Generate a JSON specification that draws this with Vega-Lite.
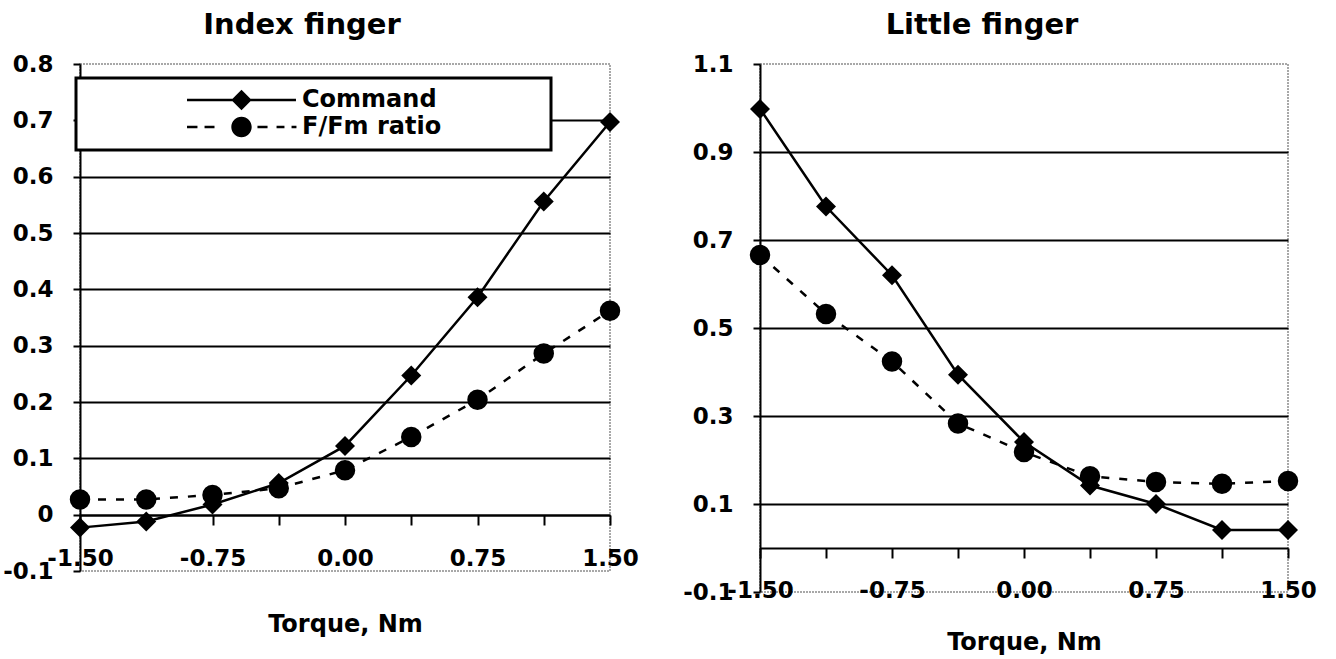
{
  "$schema": "https://vega.github.io/schema/vega-lite/v6.json",
  "autosize": "none",
  "padding": {"left": 80, "top": 64, "right": 48, "bottom": 67},
  "params": [
    {"name": "width", "value": 1208},
    {"name": "height", "value": 528}
  ],
  "background": "white",
  "bounds": "flush",
  "spacing": 150,
  "resolve": {"scale": {"shape": "independent"}, "legend": {"shape": "independent"}},
  "data": {
    "values": [
      {"panel": "Index finger", "series": "Command", "torque": -1.5, "value": -0.023},
      {"panel": "Index finger", "series": "Command", "torque": -1.125, "value": -0.012},
      {"panel": "Index finger", "series": "Command", "torque": -0.75, "value": 0.018},
      {"panel": "Index finger", "series": "Command", "torque": -0.375, "value": 0.056},
      {"panel": "Index finger", "series": "Command", "torque": 0, "value": 0.122},
      {"panel": "Index finger", "series": "Command", "torque": 0.375, "value": 0.247},
      {"panel": "Index finger", "series": "Command", "torque": 0.75, "value": 0.386},
      {"panel": "Index finger", "series": "Command", "torque": 1.125, "value": 0.556},
      {"panel": "Index finger", "series": "Command", "torque": 1.5, "value": 0.697},
      {"panel": "Index finger", "series": "F/Fm ratio", "torque": -1.5, "value": 0.027},
      {"panel": "Index finger", "series": "F/Fm ratio", "torque": -1.125, "value": 0.027},
      {"panel": "Index finger", "series": "F/Fm ratio", "torque": -0.75, "value": 0.035},
      {"panel": "Index finger", "series": "F/Fm ratio", "torque": -0.375, "value": 0.047},
      {"panel": "Index finger", "series": "F/Fm ratio", "torque": 0, "value": 0.079},
      {"panel": "Index finger", "series": "F/Fm ratio", "torque": 0.375, "value": 0.138},
      {"panel": "Index finger", "series": "F/Fm ratio", "torque": 0.75, "value": 0.204},
      {"panel": "Index finger", "series": "F/Fm ratio", "torque": 1.125, "value": 0.286},
      {"panel": "Index finger", "series": "F/Fm ratio", "torque": 1.5, "value": 0.362},
      {"panel": "Little finger", "series": "Command", "torque": -1.5, "value": 0.998},
      {"panel": "Little finger", "series": "Command", "torque": -1.125, "value": 0.776},
      {"panel": "Little finger", "series": "Command", "torque": -0.75, "value": 0.62},
      {"panel": "Little finger", "series": "Command", "torque": -0.375, "value": 0.394},
      {"panel": "Little finger", "series": "Command", "torque": 0, "value": 0.241},
      {"panel": "Little finger", "series": "Command", "torque": 0.375, "value": 0.142},
      {"panel": "Little finger", "series": "Command", "torque": 0.75, "value": 0.1},
      {"panel": "Little finger", "series": "Command", "torque": 1.125, "value": 0.041},
      {"panel": "Little finger", "series": "Command", "torque": 1.5, "value": 0.041},
      {"panel": "Little finger", "series": "F/Fm ratio", "torque": -1.5, "value": 0.666},
      {"panel": "Little finger", "series": "F/Fm ratio", "torque": -1.125, "value": 0.532},
      {"panel": "Little finger", "series": "F/Fm ratio", "torque": -0.75, "value": 0.424},
      {"panel": "Little finger", "series": "F/Fm ratio", "torque": -0.375, "value": 0.283},
      {"panel": "Little finger", "series": "F/Fm ratio", "torque": 0, "value": 0.218},
      {"panel": "Little finger", "series": "F/Fm ratio", "torque": 0.375, "value": 0.163},
      {"panel": "Little finger", "series": "F/Fm ratio", "torque": 0.75, "value": 0.15},
      {"panel": "Little finger", "series": "F/Fm ratio", "torque": 1.125, "value": 0.146},
      {"panel": "Little finger", "series": "F/Fm ratio", "torque": 1.5, "value": 0.152}
    ]
  },
  "hconcat": [
    {
      "width": 530,
      "height": 507,
      "title": {"text": "Index finger", "dx": -43},
      "transform": [{"filter": "datum.panel === 'Index finger'"}],
      "encoding": {
        "x": {
          "field": "torque",
          "type": "quantitative",
          "scale": {"domain": [-1.5, 1.5], "nice": false, "zero": false},
          "axis": {
            "values": [-1.5, -1.125, -0.75, -0.375, 0, 0.375, 0.75, 1.125, 1.5],
            "offset": -56,
            "tickSize": 10,
            "grid": false,
            "labelBaseline": "middle",
            "labelPadding": 33,
            "labelExpr": "abs(datum.value / 0.75 - round(datum.value / 0.75)) < 0.01 ? replace(format(datum.value, '.2f'), '\u2212', '-') : ''",
            "title": "Torque, Nm",
            "titleY": 116,
            "titleBaseline": "alphabetic"
          }
        },
        "y": {
          "field": "value",
          "type": "quantitative",
          "scale": {"domain": [-0.1, 0.8], "nice": false, "zero": false},
          "axis": {
            "values": [-0.1, 0, 0.1, 0.2, 0.3, 0.4, 0.5, 0.6, 0.7, 0.8],
            "title": null,
            "grid": true,
            "gridOpacity": {"condition": {"test": "datum.value > 0.75 || datum.value < -0.05", "value": 0}, "value": 1},
            "tickSize": 7,
            "labelPadding": 20,
            "labelExpr": "replace(format(datum.value, '.1~f'), '\u2212', '-')"
          }
        }
      },
      "layer": [
        {
          "transform": [{"filter": "datum.series === 'Command'"}],
          "mark": {"type": "line", "color": "black", "strokeWidth": 2.5},
          "encoding": {}
        },
        {
          "transform": [{"filter": "datum.series === 'F/Fm ratio'"}],
          "mark": {"type": "line", "color": "black", "strokeWidth": 2.5, "strokeDash": [8, 10]},
          "encoding": {}
        },
        {
          "transform": [{"filter": "datum.series === 'Command'"}],
          "mark": {"type": "point", "shape": "diamond", "filled": true, "color": "black", "opacity": 1, "size": 400}
        },
        {
          "transform": [{"filter": "datum.series === 'F/Fm ratio'"}],
          "mark": {"type": "point", "shape": "circle", "filled": true, "color": "black", "opacity": 1, "size": 420}
        },
        {
          "transform": [{"filter": "datum.torque > 99"}],
          "mark": {"type": "point", "filled": true, "color": "black", "opacity": 1},
          "encoding": {
            "shape": {
              "field": "series",
              "type": "nominal",
              "scale": {
                "domain": ["Command", "F/Fm ratio"],
                "range": [
                  "M-4.54,-0.11H4.54V0.11H-4.54ZM0,-0.85L0.85,0L0,0.85L-0.85,0ZM24.7,0L24.75,0",
                  "M-4.54,-0.11H-3.67V0.11H-4.54ZM-3.08,-0.11H-2.25V0.11H-3.08ZM1.33,-0.11H2.17V0.11H1.33ZM2.92,-0.11H3.58V0.11H2.92ZM4.17,-0.11H4.58V0.11H4.17ZM0.85,0A0.85,0.85,0,1,1,-0.85,0A0.85,0.85,0,1,1,0.85,0ZM24.7,0L24.75,0"
                ]
              },
              "legend": {
                "title": null,
                "orient": "none",
                "legendX": -4,
                "legendY": 14,
                "direction": "vertical",
                "fillColor": "white",
                "strokeColor": "black",
                "padding": 9,
                "symbolSize": 576,
                "symbolOpacity": 1,
                "symbolFillColor": "black",
                "symbolOffset": 143.5,
                "labelOffset": 47.5,
                "rowPadding": -7,
                "labelFont": "DejaVu Sans",
                "labelFontSize": 24,
                "labelFontWeight": "bold",
                "labelColor": "black",
                "labelBaseline": "middle"
              }
            }
          }
        }
      ]
    },
    {
      "width": 528,
      "height": 528,
      "title": {"text": "Little finger", "dx": -42},
      "transform": [{"filter": "datum.panel === 'Little finger'"}],
      "encoding": {
        "x": {
          "field": "torque",
          "type": "quantitative",
          "scale": {"domain": [-1.5, 1.5], "nice": false, "zero": false},
          "axis": {
            "values": [-1.5, -1.125, -0.75, -0.375, 0, 0.375, 0.75, 1.125, 1.5],
            "offset": -44,
            "tickSize": 10,
            "grid": false,
            "labelBaseline": "middle",
            "labelPadding": 32,
            "labelExpr": "abs(datum.value / 0.75 - round(datum.value / 0.75)) < 0.01 ? replace(format(datum.value, '.2f'), '\u2212', '-') : ''",
            "title": "Torque, Nm",
            "titleY": 101,
            "titleBaseline": "alphabetic"
          }
        },
        "y": {
          "field": "value",
          "type": "quantitative",
          "scale": {"domain": [-0.1, 1.1], "nice": false, "zero": false},
          "axis": {
            "values": [-0.1, 0.1, 0.3, 0.5, 0.7, 0.9, 1.1],
            "title": null,
            "grid": true,
            "gridOpacity": {"condition": {"test": "datum.value > 1.05 || datum.value < -0.05", "value": 0}, "value": 1},
            "tickSize": 7,
            "labelPadding": 20,
            "labelExpr": "replace(format(datum.value, '.1~f'), '\u2212', '-')"
          }
        }
      },
      "layer": [
        {
          "transform": [{"filter": "datum.series === 'Command'"}],
          "mark": {"type": "line", "color": "black", "strokeWidth": 2.5},
          "encoding": {}
        },
        {
          "transform": [{"filter": "datum.series === 'F/Fm ratio'"}],
          "mark": {"type": "line", "color": "black", "strokeWidth": 2.5, "strokeDash": [8, 10]},
          "encoding": {}
        },
        {
          "transform": [{"filter": "datum.series === 'Command'"}],
          "mark": {"type": "point", "shape": "diamond", "filled": true, "color": "black", "opacity": 1, "size": 400}
        },
        {
          "transform": [{"filter": "datum.series === 'F/Fm ratio'"}],
          "mark": {"type": "point", "shape": "circle", "filled": true, "color": "black", "opacity": 1, "size": 420}
        }
      ]
    }
  ],
  "config": {
    "font": "DejaVu Sans",
    "view": {"stroke": "#8c8c8c", "strokeWidth": 1.5, "strokeDash": [2, 1]},
    "title": {
      "font": "DejaVu Sans",
      "fontSize": 29,
      "fontWeight": "bold",
      "color": "black",
      "anchor": "middle",
      "frame": "group",
      "offset": 13
    },
    "axis": {
      "labelFont": "DejaVu Sans",
      "labelFontSize": 23,
      "labelFontWeight": "bold",
      "labelColor": "black",
      "labelOverlap": false,
      "labelFlush": false,
      "domainColor": "black",
      "domainWidth": 2,
      "tickColor": "black",
      "tickWidth": 2,
      "gridColor": "black",
      "gridWidth": 2,
      "titleFont": "DejaVu Sans",
      "titleFontSize": 24,
      "titleFontWeight": "bold",
      "titleColor": "black"
    },
    "legend": {"strokeWidth": 3}
  }
}
